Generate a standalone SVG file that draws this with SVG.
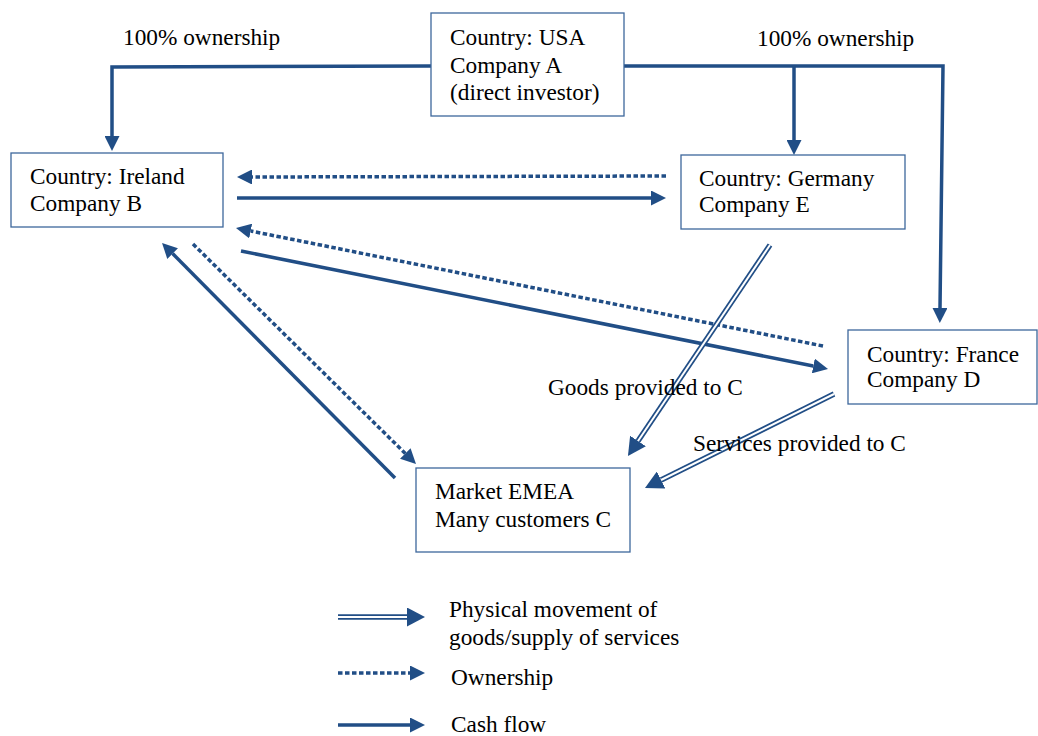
<svg xmlns="http://www.w3.org/2000/svg" width="1038" height="736" viewBox="0 0 1038 736">
  <style>
    .box { fill: #ffffff; stroke: #3d679c; stroke-width: 1.3; }
    .txt { font-family: "Liberation Serif", "Times New Roman", serif; font-size: 23.3px; fill: #000000; }
    .cash { fill: none; stroke: #214e86; stroke-width: 3.5; }
    .own { fill: none; stroke: #214e86; stroke-width: 3.5; stroke-dasharray: 4.5 2.5; }
    .dbl { fill: none; stroke: #214e86; stroke-width: 5.5; }
    .dbl-in { fill: none; stroke: #ffffff; stroke-width: 2; }
  </style>
  <defs>
    <marker id="head" markerUnits="userSpaceOnUse" markerWidth="15" markerHeight="15" viewBox="0 0 15 15" refX="0" refY="7.5" orient="auto">
      <path d="M0,0 L15,7.5 L0,15 Z" fill="#214e86"/>
    </marker>
    <marker id="headBig" markerUnits="userSpaceOnUse" markerWidth="18" markerHeight="19" viewBox="0 0 18 19" refX="0" refY="9.5" orient="auto">
      <path d="M0,0 L18,9.5 L0,19 Z" fill="#214e86"/>
    </marker>
  </defs>

  <rect width="1038" height="736" fill="#ffffff"/>

  <!-- connectors -->
  <g id="connectors">
    <!-- ownership lines from the direct investor -->
    <path class="cash" d="M431,66 L112,67 L112,136" marker-end="url(#head)"/>
    <path class="cash" d="M624,66 L943,66 L940,308" marker-end="url(#head)"/>
    <path class="cash" d="M794,66 L794,140" marker-end="url(#head)"/>

    <!-- Ireland <-> Germany -->
    <path class="own" d="M666,176 L252,177" marker-end="url(#head)"/>
    <path class="cash" d="M237,198 L651,198" marker-end="url(#head)"/>

    <!-- Ireland <-> France -->
    <path class="own" d="M823,346 L250.7,231" marker-end="url(#head)"/>
    <path class="cash" d="M241,251 L813.3,366" marker-end="url(#head)"/>

    <!-- Ireland <-> customers -->
    <path class="cash" d="M395,478 L172.6,253.6" marker-end="url(#head)"/>
    <path class="own" d="M193,244 L405.3,453.5" marker-end="url(#head)"/>

    <!-- goods and services to customers -->
    <path class="dbl" d="M770,245 L638,441" marker-end="url(#headBig)"/>
    <path class="dbl-in" d="M770,245 L638,441"/>
    <path class="dbl" d="M834,394 L661.1,480" marker-end="url(#headBig)"/>
    <path class="dbl-in" d="M834,394 L661.1,480"/>

    <!-- legend arrows -->
    <path class="dbl" d="M338,617 L407,617" marker-end="url(#headBig)"/>
    <path class="dbl-in" d="M338,617 L407,617"/>
    <path class="own" d="M338,673 L410,673" marker-end="url(#head)"/>
    <path class="cash" d="M338,725 L410,725" marker-end="url(#head)"/>
  </g>

  <!-- nodes -->
  <g id="node-usa">
    <rect class="box" x="431" y="13" width="193" height="103"/>
    <text class="txt" x="450" y="45">Country: USA</text>
    <text class="txt" x="450" y="73">Company A</text>
    <text class="txt" x="450" y="100">(direct investor)</text>
  </g>
  <g id="node-ireland">
    <rect class="box" x="11" y="153" width="212" height="74"/>
    <text class="txt" x="30" y="184">Country: Ireland</text>
    <text class="txt" x="30" y="211">Company B</text>
  </g>
  <g id="node-germany">
    <rect class="box" x="681" y="155" width="224" height="74"/>
    <text class="txt" x="699" y="186">Country: Germany</text>
    <text class="txt" x="699" y="212">Company E</text>
  </g>
  <g id="node-france">
    <rect class="box" x="848" y="330" width="189" height="74"/>
    <text class="txt" x="867" y="362">Country: France</text>
    <text class="txt" x="867" y="387">Company D</text>
  </g>
  <g id="node-market">
    <rect class="box" x="416" y="468" width="214" height="84"/>
    <text class="txt" x="435" y="499">Market EMEA</text>
    <text class="txt" x="435" y="527">Many customers C</text>
  </g>

  <!-- connector labels -->
  <g id="labels">
    <text class="txt" x="123" y="45">100% ownership</text>
    <text class="txt" x="757" y="46">100% ownership</text>
    <text class="txt" x="548" y="395">Goods provided to C</text>
    <text class="txt" x="693" y="451">Services provided to C</text>
  </g>

  <!-- legend -->
  <g id="legend">
    <text class="txt" x="449" y="617">Physical movement of</text>
    <text class="txt" x="449" y="645">goods/supply of services</text>
    <text class="txt" x="451" y="685">Ownership</text>
    <text class="txt" x="451" y="732">Cash flow</text>
  </g>
</svg>
